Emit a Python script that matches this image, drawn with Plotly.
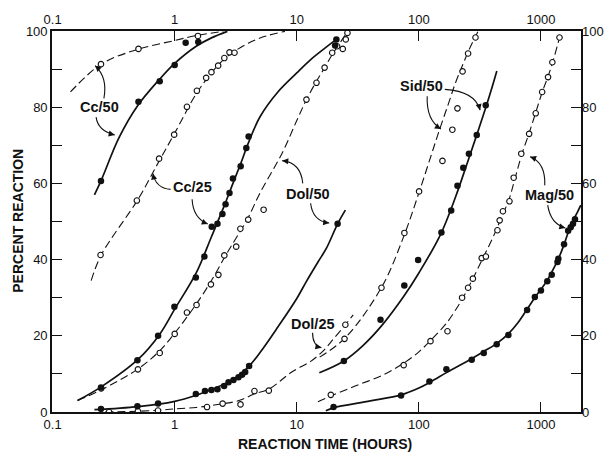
import math
import plotly.graph_objects as go

# ---------------- measured points (reaction time in hours, percent reaction) ----------------
cc50_open_t = [0.249, 0.505, 1.55]
cc50_open_pct = [91.3, 95.3, 98.7]
cc50_filled_t = [0.249, 0.505, 0.754, 1.0, 1.23, 1.56]
cc50_filled_pct = [60.6, 81.4, 86.8, 91.1, 96.9, 97.1]

cc25_open_t = [0.247, 0.49, 0.745, 0.99, 1.26, 1.52, 1.81, 2.0, 2.27, 2.55, 2.81, 3.09]
cc25_open_pct = [41.2, 55.5, 66.5, 72.8, 80.1, 84.3, 87.7, 89.2, 90.9, 92.9, 94.4, 94.3]
cc25_filled_t = [0.249, 0.495, 0.731, 0.994, 1.49, 1.75, 2.01, 2.24, 2.46, 2.61, 2.81, 3.0,
                 3.47, 3.86, 4.03, 20.6, 21.1]
cc25_filled_pct = [6.4, 13.6, 20.0, 27.6, 35.3, 40.8, 48.6, 49.4, 52.0, 54.5, 57.5, 61.3,
                   64.5, 69.3, 72.3, 96.2, 97.8]

dol50_open_t = [0.25, 0.5, 0.754, 1.0, 1.26, 1.51, 1.98, 2.28, 2.55, 3.19, 3.45, 4.0, 5.35,
                12.0, 14.5, 16.9, 19.5, 21.4, 23.8, 25.2, 26.0]
dol50_open_pct = [6.2, 11.2, 15.5, 20.5, 26.1, 28.1, 33.5, 36.0, 41.1, 43.4, 48.1, 50.5, 53.1,
                  82.0, 86.4, 90.4, 94.3, 96.0, 95.3, 97.8, 99.5]
dol50_filled_t = [0.249, 0.495, 0.731, 1.49, 1.77, 2.0, 2.24, 2.54, 2.76, 3.03, 3.33, 3.56,
                  3.78, 4.07, 21.6]
dol50_filled_pct = [0.8, 1.5, 2.2, 4.7, 5.5, 5.8, 6.0, 6.8, 7.8, 8.4, 9.1, 9.8, 10.5, 12.1, 49.4]

dol25_open_t = [0.29, 0.5, 0.73, 1.84, 2.47, 3.46, 4.5, 5.9, 25.0]
dol25_open_pct = [0.0, 0.2, 0.4, 1.3, 2.2, 2.0, 5.5, 5.6, 22.9]

sid50_open_t = [24.6, 49.4, 76.1, 100.4, 156, 188, 207, 228, 253, 291]
sid50_open_pct = [19.2, 32.6, 47.0, 57.9, 65.9, 74.1, 79.7, 89.4, 94.1, 98.3]
sid50_filled_t = [24.3, 48.5, 76, 98.6, 153, 184, 207, 231, 257, 298, 353]
sid50_filled_pct = [13.4, 24.2, 33.2, 39.9, 47.1, 52.9, 59.4, 64.1, 67.8, 72.7, 80.5]

mag50_open_t = [19.0, 75.1, 124.5, 171.5, 226, 253, 277, 327, 354, 440, 459, 488, 552, 598,
                690, 800, 906, 1023, 1143, 1240, 1419]
mag50_open_pct = [4.5, 12.3, 18.6, 21.2, 30.0, 32.6, 35.0, 40.4, 40.8, 47.7, 50.3, 52.7, 55.3,
                  61.5, 67.8, 73.0, 78.4, 84.0, 87.9, 91.8, 98.3]
mag50_filled_t = [20.0, 71.5, 122, 168, 271, 340, 434, 541, 770, 891, 1000, 1127, 1226, 1366,
                  1388, 1545, 1670, 1753, 1830, 1900]
mag50_filled_pct = [1.3, 4.3, 8.0, 11.2, 13.7, 15.5, 17.8, 20.2, 26.8, 30.2, 31.9, 34.3, 36.0,
                    39.4, 40.2, 44.0, 47.6, 48.5, 49.4, 50.6]

# ---------------- fitted rate curves (hand-drawn smooth lines) ----------------
cc50_open_curve_t = [0.14, 0.25, 0.5, 1.0, 1.5, 2.5]
cc50_open_curve_pct = [84.0, 91.3, 95.2, 97.5, 98.8, 99.9]
cc50_filled_curve_t = [0.22, 0.25, 0.35, 0.5, 0.75, 1.0, 1.5, 2.0, 2.7]
cc50_filled_curve_pct = [57.0, 60.8, 72.0, 80.5, 87.3, 91.5, 96.0, 98.2, 99.9]

cc25_open_curve_t = [0.207, 0.25, 0.5, 0.75, 1.0, 1.5, 2.0, 2.5, 3.0, 4.0, 5.5, 8.0]
cc25_open_curve_pct = [34.5, 41.2, 55.8, 66.0, 73.2, 83.5, 89.0, 92.4, 94.4, 96.8, 98.6, 99.9]
cc25_filled_curve_t = [0.16, 0.25, 0.5, 0.75, 1.0, 1.5, 2.0, 2.5, 3.0, 3.5, 4.0, 5.0, 7.0,
                       10, 13, 17, 21.5]
cc25_filled_curve_pct = [3.0, 6.6, 13.8, 20.3, 27.0, 36.5, 46.0, 53.5, 60.0, 65.5, 70.5, 77.5,
                         84.0, 89.0, 92.5, 95.5, 98.0]

dol50_open_curve_t = [0.16, 0.25, 0.5, 0.75, 1.0, 1.5, 2.0, 2.5, 3.0, 3.5, 4.0, 5.0, 7.6, 10,
                      12, 14.5, 17, 19.5, 22.5, 26]
dol50_open_curve_pct = [3.0, 5.8, 11.3, 16.0, 20.7, 28.3, 34.5, 40.0, 44.3, 47.8, 51.0, 57.5,
                        68.0, 76.5, 82.0, 86.8, 90.5, 93.8, 96.8, 99.9]
dol50_filled_curve_t = [0.22, 0.5, 1.0, 1.5, 2.0, 3.0, 4.0, 5.0, 7.0, 10, 12, 15, 17.5, 21.6, 25]
dol50_filled_curve_pct = [0.6, 1.4, 2.8, 4.4, 5.9, 8.5, 11.8, 15.6, 22.3, 29.8, 34.3, 39.5,
                          43.0, 49.4, 53.0]

dol25_open_curve_t = [0.27, 0.5, 0.75, 1.0, 1.5, 2.0, 2.5, 3.0, 3.5, 4.0, 4.5, 5.9, 9.1, 13,
                      16.4, 20, 25, 29]
dol25_open_curve_pct = [0.0, 0.2, 0.5, 0.8, 1.2, 1.7, 2.2, 2.6, 3.2, 4.0, 4.8, 6.0, 10.5, 13.3,
                        16.0, 19.2, 22.9, 25.5]

sid50_open_curve_t = [15.4, 25, 50, 76, 100, 125, 148, 175, 200, 228, 253, 280, 305]
sid50_open_curve_pct = [14.4, 19.5, 33.0, 46.5, 57.5, 67.0, 74.2, 81.0, 86.5, 91.0, 94.5,
                        97.5, 99.9]
sid50_filled_curve_t = [15.3, 24.3, 35, 50, 75, 100, 150, 200, 250, 300, 350, 400, 435]
sid50_filled_curve_pct = [10.3, 13.4, 17.5, 22.8, 30.3, 36.5, 46.5, 56.5, 65.5, 73.0, 79.5,
                          85.5, 89.5]

mag50_open_curve_t = [14.9, 19, 30, 50, 75, 100, 125, 170, 226, 277, 330, 400, 460, 550, 600,
                      700, 800, 900, 1020, 1140, 1240, 1420, 1465]
mag50_open_curve_pct = [2.7, 4.2, 6.8, 9.6, 12.8, 15.8, 18.8, 23.5, 29.6, 35.0, 40.0, 45.5,
                        50.0, 56.0, 60.2, 67.8, 73.2, 78.3, 83.8, 88.0, 91.5, 98.3, 99.9]
mag50_filled_curve_t = [17.3, 20, 40, 71.5, 100, 124.5, 170, 270, 340, 436, 540, 650, 770, 890,
                        1000, 1130, 1230, 1380, 1540, 1680, 1830, 2000, 2120]
mag50_filled_curve_pct = [0.3, 1.1, 2.9, 4.5, 6.3, 7.9, 10.4, 14.0, 15.9, 18.0, 20.5, 23.5,
                          27.0, 30.0, 32.2, 34.6, 36.8, 40.0, 43.8, 47.3, 50.2, 52.6, 54.3]

x_tick_vals = [0.1, 1, 10, 100, 1000]
x_tick_text = ["0.1", "1", "10", "100", "1000"]
y_tick_vals = [0, 20, 40, 60, 80, 100]

# ---------------- page geometry ----------------
W, H = 616, 453
ML, MR, MT, MB = 52, 24, 27, 41
PW, PH = W - ML - MR, H - MT - MB
FONT = "Liberation Sans, Arial, Helvetica, sans-serif"
INK = "#111111"


def paper(px, py):
    """Page pixel -> paper fraction."""
    return (px - ML) / PW, (H - MB - py) / PH


fig = go.Figure()

dashed_curves = [
    ("Cc/50 open", cc50_open_curve_t, cc50_open_curve_pct),
    ("Cc/25 open", cc25_open_curve_t, cc25_open_curve_pct),
    ("Dol/50 open", dol50_open_curve_t, dol50_open_curve_pct),
    ("Dol/25 open", dol25_open_curve_t, dol25_open_curve_pct),
    ("Sid/50 open", sid50_open_curve_t, sid50_open_curve_pct),
    ("Mag/50 open", mag50_open_curve_t, mag50_open_curve_pct),
]
solid_curves = [
    ("Cc/50 filled", cc50_filled_curve_t, cc50_filled_curve_pct),
    ("Cc/25 filled", cc25_filled_curve_t, cc25_filled_curve_pct),
    ("Dol/50 filled", dol50_filled_curve_t, dol50_filled_curve_pct),
    ("Sid/50 filled", sid50_filled_curve_t, sid50_filled_curve_pct),
    ("Mag/50 filled", mag50_filled_curve_t, mag50_filled_curve_pct),
]
for name, t, p in dashed_curves:
    fig.add_trace(go.Scatter(x=t, y=p, mode="lines", name=name, showlegend=False,
                             line=dict(color=INK, width=1.1, dash="8px,4px", shape="spline",
                                       smoothing=1.0),
                             hoverinfo="skip"))
for name, t, p in solid_curves:
    fig.add_trace(go.Scatter(x=t, y=p, mode="lines", name=name, showlegend=False,
                             line=dict(color=INK, width=1.7, shape="spline", smoothing=1.0),
                             hoverinfo="skip"))

open_sets = [
    ("Cc/50", cc50_open_t, cc50_open_pct),
    ("Cc/25", cc25_open_t, cc25_open_pct),
    ("Dol/50", dol50_open_t, dol50_open_pct),
    ("Dol/25", dol25_open_t, dol25_open_pct),
    ("Sid/50", sid50_open_t, sid50_open_pct),
    ("Mag/50", mag50_open_t, mag50_open_pct),
]
filled_sets = [
    ("Cc/50", cc50_filled_t, cc50_filled_pct),
    ("Cc/25", cc25_filled_t, cc25_filled_pct),
    ("Dol/50", dol50_filled_t, dol50_filled_pct),
    ("Sid/50", sid50_filled_t, sid50_filled_pct),
    ("Mag/50", mag50_filled_t, mag50_filled_pct),
]
for name, t, p in open_sets:
    fig.add_trace(go.Scatter(x=t, y=p, mode="markers", name=name, showlegend=False,
                             marker=dict(symbol="circle", size=5.5, color="white",
                                         line=dict(color=INK, width=1.1))))
for name, t, p in filled_sets:
    fig.add_trace(go.Scatter(x=t, y=p, mode="markers", name=name, showlegend=False,
                             marker=dict(symbol="circle", size=6.5, color=INK,
                                         line=dict(color=INK, width=0))))

# companion axes for the top and right tick labels
fig.add_trace(go.Scatter(x=[], y=[], xaxis="x2", yaxis="y2", showlegend=False,
                         hoverinfo="skip"))

x_range = [-1.005, 3.328]
tick_font = dict(family=FONT, size=13, color=INK)
fig.update_layout(
    width=W, height=H,
    margin=dict(l=ML, r=MR, t=MT, b=MB, pad=0),
    paper_bgcolor="white", plot_bgcolor="white",
    xaxis=dict(type="log", range=x_range, tickvals=x_tick_vals, ticktext=x_tick_text,
               ticks="inside", ticklen=10, tickwidth=1.2, tickcolor=INK,
               showline=True, linewidth=1.6, linecolor=INK, mirror="ticks",
               showgrid=False, zeroline=False, tickfont=tick_font),
    yaxis=dict(range=[0, 100], tickvals=y_tick_vals,
               ticks="inside", ticklen=10, tickwidth=1.2, tickcolor=INK,
               minor=dict(dtick=10, ticks="inside", ticklen=10, tickwidth=1.2,
                          tickcolor=INK),
               showline=True, linewidth=1.6, linecolor=INK, mirror="ticks",
               showgrid=False, zeroline=False, tickfont=tick_font),
    xaxis2=dict(type="log", range=x_range, overlaying="x", side="top", anchor="y",
                tickvals=x_tick_vals, ticktext=x_tick_text, ticks="",
                ticklabelstandoff=3,
                showline=False, showgrid=False, zeroline=False, tickfont=tick_font),
    yaxis2=dict(range=[0, 100], overlaying="y", side="right", anchor="x",
                tickvals=y_tick_vals, ticks="", showline=False, showgrid=False,
                zeroline=False, tickfont=tick_font),
)

annotations = []
shapes = []

# axis titles
ax_title_font = dict(family=FONT, size=14, color=INK, weight="bold")
x0, y0 = paper(331, 444)
annotations.append(dict(text="REACTION TIME (HOURS)", x=x0, y=y0, xref="paper", yref="paper",
                        showarrow=False, font=ax_title_font, xanchor="center",
                        yanchor="middle"))
x0, y0 = paper(17, 219)
annotations.append(dict(text="PERCENT REACTION", x=x0, y=y0, xref="paper", yref="paper",
                        showarrow=False, font=ax_title_font, textangle=-90,
                        xanchor="center", yanchor="middle"))

# curve labels
label_font = dict(family=FONT, size=14.5, color=INK, weight="bold")
curve_labels = [
    ("Cc/50", 100, 104),
    ("Cc/25", 195, 185),
    ("Dol/50", 313, 192),
    ("Dol/25", 318, 323),
    ("Sid/50", 429, 83),
    ("Mag/50", 560, 193),
]
for text, px, py in curve_labels:
    x0, y0 = paper(px, py)
    annotations.append(dict(text=text, x=x0, y=y0, xref="paper", yref="paper",
                            showarrow=False, font=label_font, xanchor="center",
                            yanchor="middle"))

# curved pointer arrows: tail, control point, tip (page pixels)
pointers = [
    ((105, 95), (109, 74), (96, 62)),
    ((97, 114), (99, 128), (116, 132)),
    ((173, 187), (158, 186), (155, 171)),
    ((195, 197), (196, 216), (211, 222)),
    ((308, 181), (306, 160), (287, 158)),
    ((316, 201), (318, 219), (335, 221)),
    ((318, 332), (318, 345), (327, 347)),
    ((435, 93), (434, 117), (449, 126)),
    ((453, 86), (484, 88), (489, 107)),
    ((555, 183), (556, 160), (540, 154)),
    ((558, 203), (561, 222), (576, 226)),
]
for (tx, ty), (cx, cy), (hx, hy) in pointers:
    a = paper(tx, ty)
    c = paper(cx, cy)
    b = paper(hx, hy)
    shapes.append(dict(type="path", xref="paper", yref="paper",
                       path=f"M {a[0]},{a[1]} Q {c[0]},{c[1]} {b[0]},{b[1]}",
                       line=dict(color=INK, width=1.1)))
    dx, dy = hx - cx, hy - cy
    n = math.hypot(dx, dy)
    annotations.append(dict(x=b[0], y=b[1], xref="paper", yref="paper", text="",
                            showarrow=True, arrowhead=2, arrowsize=1.1, arrowwidth=1.1,
                            arrowcolor=INK, ax=-dx / n * 6, ay=-dy / n * 6,
                            axref="pixel", ayref="pixel", standoff=0))

fig.update_layout(annotations=annotations, shapes=shapes)

fig.write_html("out.html")
